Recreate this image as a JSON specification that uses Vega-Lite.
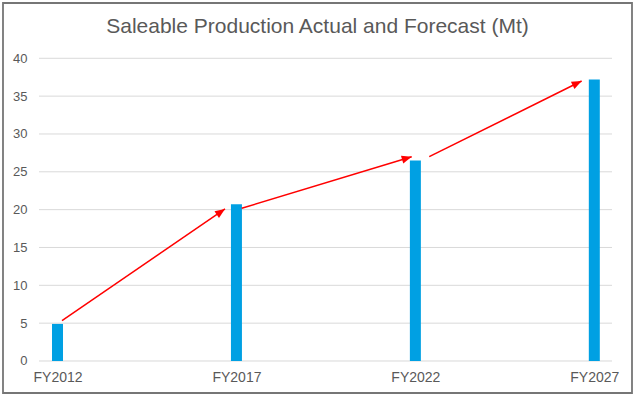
{
  "$schema": "https://vega.github.io/schema/vega-lite/v6.json",
  "width": 629,
  "height": 390,
  "autosize": {"type": "none"},
  "padding": {"left": 3, "top": 3, "right": 5, "bottom": 6},
  "background": "white",
  "config": {
    "view": {"stroke": "#767676", "strokeWidth": 1.8},
    "font": "Liberation Sans"
  },
  "title": {
    "text": "Saleable Production Actual and Forecast (Mt)",
    "frame": "group",
    "anchor": "middle",
    "baseline": "alphabetic",
    "offset": -30,
    "dy": 21,
    "fontSize": 21,
    "fontWeight": "normal",
    "color": "#595959",
    "font": "Liberation Sans"
  },
  "datasets": {
    "bars": [
      {"year": 2012, "value": 4.9},
      {"year": 2017, "value": 20.7},
      {"year": 2022, "value": 26.5},
      {"year": 2027, "value": 37.2}
    ],
    "grid": [
      {"v": 0}, {"v": 5}, {"v": 10}, {"v": 15}, {"v": 20},
      {"v": 25}, {"v": 30}, {"v": 35}, {"v": 40}
    ],
    "arrows": [
      {"id": 1, "x1": 2012.126, "y1": 5.35, "x2": 2016.68, "y2": 20.09},
      {"id": 2, "x1": 2017.147, "y1": 20.18, "x2": 2021.897, "y2": 27.0},
      {"id": 3, "x1": 2022.388, "y1": 27.0, "x2": 2026.646, "y2": 37.0}
    ]
  },
  "layer": [
    {
      "data": {"name": "grid"},
      "mark": {"type": "rule", "color": "#D9D9D9", "strokeWidth": 1},
      "encoding": {
        "y": {
          "field": "v",
          "type": "quantitative",
          "scale": {"domain": [-4.229, 47.307], "nice": false, "zero": false, "padding": 0},
          "axis": {
            "values": [0, 5, 10, 15, 20, 25, 30, 35, 40],
            "title": null,
            "grid": false,
            "domain": false,
            "ticks": false,
            "offset": -36,
            "labelPadding": 12,
            "labelFont": "Liberation Sans",
            "labelFontSize": 13,
            "labelColor": "#595959"
          }
        },
        "x": {
          "datum": 2011.483,
          "type": "quantitative",
          "scale": {"domain": [2010.477, 2028.053], "nice": false, "zero": false, "padding": 0},
          "axis": {
            "values": [2012, 2017, 2022, 2027],
            "labelExpr": "'FY' + datum.value",
            "title": null,
            "grid": false,
            "domain": false,
            "ticks": false,
            "offset": -32,
            "labelPadding": 9,
            "labelFont": "Liberation Sans",
            "labelFontSize": 14,
            "labelColor": "#595959"
          }
        },
        "x2": {"datum": 2027.495}
      }
    },
    {
      "data": {"name": "bars"},
      "mark": {"type": "bar", "width": 11, "color": "#00A0E3"},
      "encoding": {
        "x": {"field": "year", "type": "quantitative"},
        "y": {"field": "value", "type": "quantitative"},
        "y2": {"datum": 0}
      }
    },
    {
      "data": {"name": "arrows"},
      "mark": {"type": "rule", "color": "#FF0000", "strokeWidth": 1.5},
      "encoding": {
        "x": {"field": "x1", "type": "quantitative"},
        "y": {"field": "y1", "type": "quantitative"},
        "x2": {"field": "x2"},
        "y2": {"field": "y2"}
      }
    },
    {
      "data": {"name": "arrows"},
      "transform": [{"filter": "datum.id == 1"}],
      "mark": {"type": "point", "shape": "M0,0L-1,-0.4L-1,0.4Z", "size": 400, "filled": true, "color": "#FF0000", "opacity": 1, "angle": 325.6},
      "encoding": {
        "x": {"field": "x2", "type": "quantitative"},
        "y": {"field": "y2", "type": "quantitative"}
      }
    },
    {
      "data": {"name": "arrows"},
      "transform": [{"filter": "datum.id == 2"}],
      "mark": {"type": "point", "shape": "M0,0L-1,-0.4L-1,0.4Z", "size": 400, "filled": true, "color": "#FF0000", "opacity": 1, "angle": 343.1},
      "encoding": {
        "x": {"field": "x2", "type": "quantitative"},
        "y": {"field": "y2", "type": "quantitative"}
      }
    },
    {
      "data": {"name": "arrows"},
      "transform": [{"filter": "datum.id == 3"}],
      "mark": {"type": "point", "shape": "M0,0L-1,-0.4L-1,0.4Z", "size": 400, "filled": true, "color": "#FF0000", "opacity": 1, "angle": 333.6},
      "encoding": {
        "x": {"field": "x2", "type": "quantitative"},
        "y": {"field": "y2", "type": "quantitative"}
      }
    }
  ]
}
